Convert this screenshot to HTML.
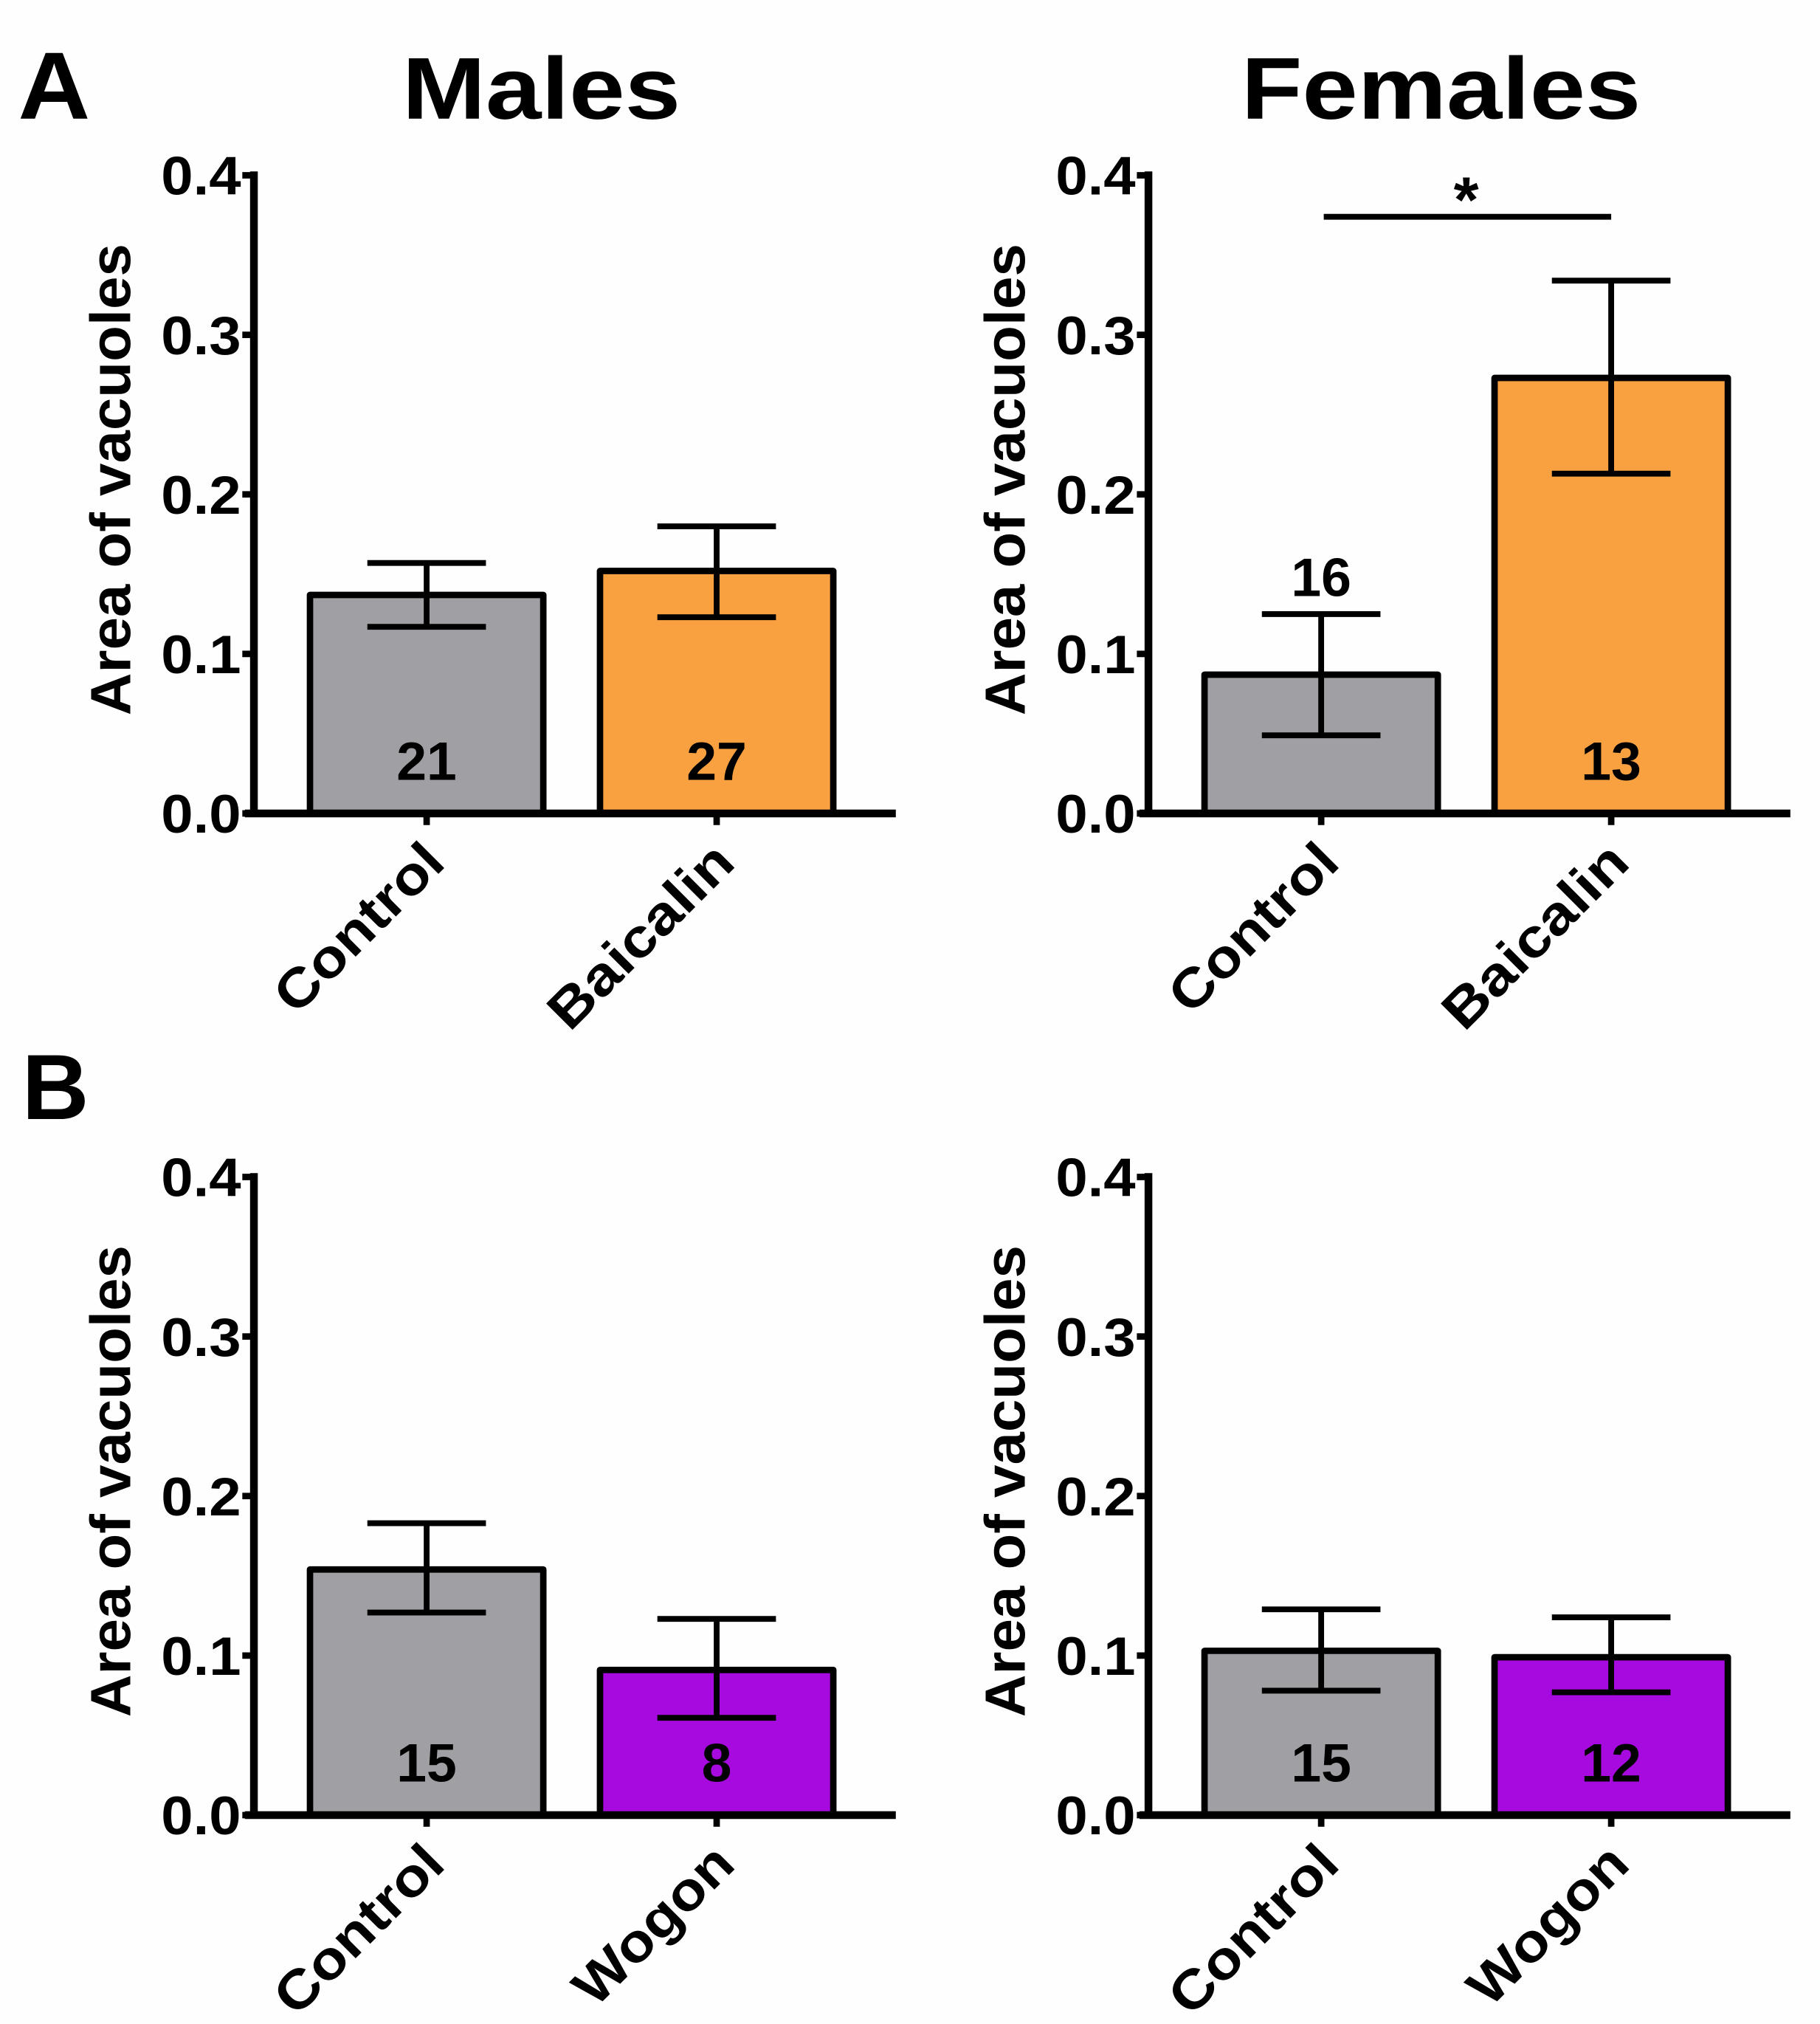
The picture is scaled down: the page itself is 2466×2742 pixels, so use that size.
<!DOCTYPE html>
<html><head><meta charset="utf-8"><style>
html,body{margin:0;padding:0;background:#fff;}
svg{display:block;}
text{font-family:"Liberation Sans",Arial,sans-serif;font-weight:bold;fill:#000;}
</style></head><body>
<svg id="fig" width="2466" height="2742" viewBox="0 0 1412 1570" xmlns="http://www.w3.org/2000/svg">
<rect width="1412" height="1570" fill="#fefefe"/>
<text x="14" y="92" font-size="74" textLength="56" lengthAdjust="spacingAndGlyphs">A</text>
<text x="17" y="868" font-size="72" textLength="52" lengthAdjust="spacingAndGlyphs">B</text>
<text x="420" y="92" font-size="68" text-anchor="middle" textLength="216" lengthAdjust="spacingAndGlyphs">Males</text>
<text x="1118" y="92" font-size="68" text-anchor="middle" textLength="310" lengthAdjust="spacingAndGlyphs">Females</text>
</svg>
<script>
// Data
const panelNames = ["males-baicalin","females-baicalin","males-wogon","females-wogon"];
const categoriesA = ["Control","Baicalin"];
const categoriesB = ["Control","Wogon"];
const meansMalesA = [0.137, 0.152];
const errHiMalesA = [0.157, 0.180];
const errLoMalesA = [0.117, 0.123];
const nMalesA = ["21","27"];
const meansFemalesA = [0.087, 0.273];
const errHiFemalesA = [0.125, 0.334];
const errLoFemalesA = [0.049, 0.213];
const nFemalesA = ["16","13"];
const meansMalesB = [0.154, 0.091];
const errHiMalesB = [0.183, 0.123];
const errLoMalesB = [0.127, 0.061];
const nMalesB = ["15","8"];
const meansFemalesB = [0.103, 0.099];
const errHiFemalesB = [0.129, 0.124];
const errLoFemalesB = [0.078, 0.077];
const nFemalesB = ["15","12"];
const yTicks = [0, 0.1, 0.2, 0.3, 0.4];
const yTickLabels = ["0.0","0.1","0.2","0.3","0.4"];

const svg = document.getElementById('fig');
const NS = "http://www.w3.org/2000/svg";
function mk(tag, attrs, parent){
  const e = document.createElementNS(NS, tag);
  for (const k in attrs) e.setAttribute(k, attrs[k]);
  (parent||svg).appendChild(e);
  return e;
}
const labelLen = {Control: 166, Baicalin: 184, Wogon: 156};
const treatColorA = "#f9a040", treatColorB = "#a60ade", ctrlColor = "#a0a0a4";

function panel(name, ax, y0, cats, means, hi, lo, ns, treatColor, nAbove, sig){
  const g = mk('g', {});
  
  
  const yTop = y0 - 495;
  const Y = v => y0 - (v / 0.4) * 495;
  const centers = [ax + 134, ax + 359];
  const X = i => centers[i];
  const bw = 181;
  for (let i = 0; i < cats.length; i++){
    const b = mk('rect', {x: X(i) - bw/2, y: Y(means[i]), width: bw, height: y0 - Y(means[i]),
      fill: i === 0 ? ctrlColor : treatColor, stroke: '#000', 'stroke-width': 5, 'stroke-linejoin': 'round'}, g);
    
    
    const e = mk('path', {d: `M${X(i)},${Y(hi[i])}V${Y(lo[i])}M${X(i)-46},${Y(hi[i])}H${X(i)+46}M${X(i)-46},${Y(lo[i])}H${X(i)+46}`,
      stroke: '#000', 'stroke-width': 4.5, fill: 'none'}, g);
    
    
    const ny = (nAbove && i === 0) ? Y(hi[i]) - 14 : y0 - 26;
    const t = mk('text', {x: X(i), y: ny, 'font-size': 42, 'text-anchor': 'middle'}, g);
    t.textContent = ns[i];
    
    
    const tk = mk('line', {x1: X(i), x2: X(i), y1: y0, y2: y0 + 9, stroke: '#000', 'stroke-width': 5}, g);
    
    
    const cl = mk('text', {x: 0, y: 0, 'font-size': 42, 'text-anchor': 'end',
      textLength: labelLen[cats[i]], lengthAdjust: 'spacingAndGlyphs',
      transform: `translate(${X(i)+16},${y0+40}) rotate(-45)`}, g);
    cl.textContent = cats[i];
    
    
  }
  const axes = mk('path', {d: `M${ax},${yTop-3}V${y0}M${ax-7},${y0}H${ax+498}`, stroke: '#000', 'stroke-width': 6, fill: 'none'}, g);
  
  
  for (let j = 0; j < yTicks.length; j++){
    const yy = Y(yTicks[j]);
    const tl = mk('line', {x1: ax - 9, x2: ax, y1: yy, y2: yy, stroke: '#000', 'stroke-width': 5}, g);
    
    
    const tt = mk('text', {x: ax - 10, y: yy + 15, 'font-size': 42, 'text-anchor': 'end', textLength: 62, lengthAdjust: 'spacingAndGlyphs'}, g);
    tt.textContent = yTickLabels[j];
    
    
  }
  const yt = mk('text', {x: 0, y: 0, 'font-size': 44, 'text-anchor': 'middle', textLength: 366, lengthAdjust: 'spacingAndGlyphs',
    transform: `translate(${ax-96},${y0-259}) rotate(-90)`}, g);
  yt.textContent = 'Area of vacuoles';
  
  
  if (sig){
    const sl = mk('line', {x1: X(0)+2, x2: X(1), y1: Y(sig), y2: Y(sig), stroke: '#000', 'stroke-width': 4.5}, g);
    
    
    const st = mk('text', {x: (X(0)+X(1))/2, y: Y(sig) + 4, 'font-size': 50, 'text-anchor': 'middle'}, g);
    st.textContent = '*';
    
    
  }
}
panel(panelNames[0], 197, 631, categoriesA, meansMalesA, errHiMalesA, errLoMalesA, nMalesA, treatColorA, false, 0);
panel(panelNames[1], 891, 631, categoriesA, meansFemalesA, errHiFemalesA, errLoFemalesA, nFemalesA, treatColorA, true, 0.374);
panel(panelNames[2], 197, 1408, categoriesB, meansMalesB, errHiMalesB, errLoMalesB, nMalesB, treatColorB, false, 0);
panel(panelNames[3], 891, 1408, categoriesB, meansFemalesB, errHiFemalesB, errLoFemalesB, nFemalesB, treatColorB, false, 0);
</script>
</body></html>
